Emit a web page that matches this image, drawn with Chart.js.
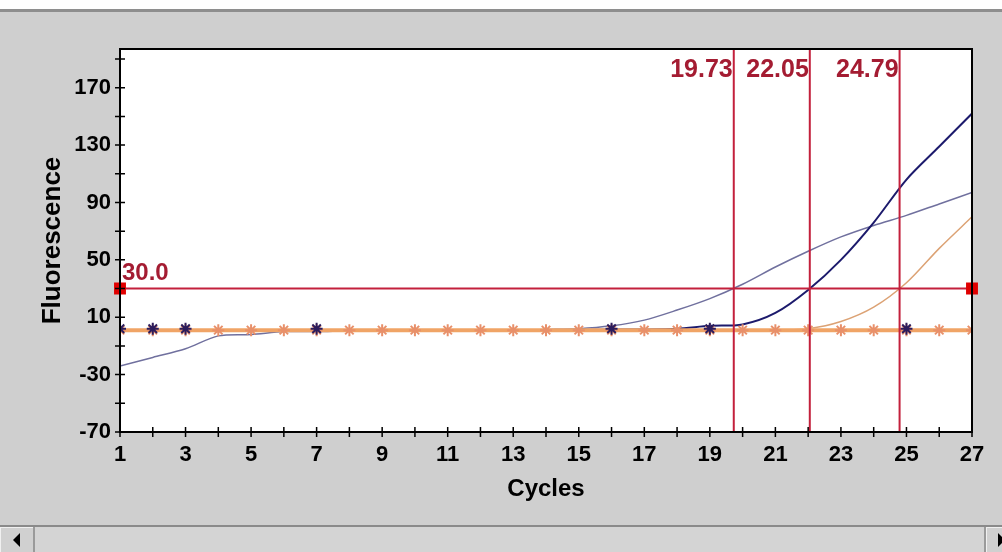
<!DOCTYPE html>
<html>
<head>
<meta charset="utf-8">
<script src="https://cdn.jsdelivr.net/npm/chart.js@4.4.1/dist/chart.umd.min.js"></script>
<style>
  body { margin: 0; width: 1002px; height: 552px; background: #cfcfcf; overflow: hidden; position: relative; }
  #topstrip { position: absolute; left: 0; top: 0; width: 1002px; height: 9px; background: #fff; border-bottom: 3px solid #8e8e8e; }
  #wrap { position: absolute; left: 0; top: 0; width: 1002px; height: 525px; }
  #scroll { position: absolute; left: 0; top: 525px; width: 1002px; height: 25px; background: #d4d4d4; border-top: 2px solid #8a8a8a; }
  .btn { position: absolute; top: 0; width: 33px; height: 25px; background: #d0d0d0; }
  #lbtn { left: 0; border-right: 2px solid #9a9a9a; box-shadow: inset 1px 1px 0 #f0f0f0; }
  #rbtn { left: 984px; border-left: 2px solid #9a9a9a; box-shadow: inset 1px 1px 0 #f0f0f0; }
  #larr { position: absolute; left: 13px; top: 6px; width: 0; height: 0; border-top: 7px solid transparent; border-bottom: 7px solid transparent; border-right: 7px solid #000; }
  #rarr { position: absolute; left: 12px; top: 6px; width: 0; height: 0; border-top: 7px solid transparent; border-bottom: 7px solid transparent; border-left: 7px solid #000; }
</style>
</head>
<body>
<div id="topstrip"></div>
<div id="wrap"><canvas id="chart" width="1002" height="525"></canvas></div>
<div id="scroll">
  <div class="btn" id="lbtn"><div id="larr"></div></div>
  <div class="btn" id="rbtn"><div id="rarr"></div></div>
</div>
<script>
// cycles on the x axis
const cycles = [1,2,3,4,5,6,7,8,9,10,11,12,13,14,15,16,17,18,19,20,21,22,23,24,25,26,27]

// amplification curves (fluorescence per cycle)
const navyCurve   = [1,1,1,1,1,1,1,1,1,1,1,1,1,1,1,1.5,1.5,2,4,5,13,29,50,76,106,129,152]
const slateCurve  = [-24,-18,-12,-3,-2,0,0,0.5,0.5,1,1,1,1,1.5,2,4,8,15,23,33,45,56,66,74,81,89,97]
const orangeCurve = [1,1,1,1,1,1,1,1,1,1,1,1,1,1,1,1,1,1,1,1,1,2,7,17,34,58,80]

// flat negative controls drawn with star markers
const baseline    = [1,1,1,1,1,1,1,1,1,1,1,1,1,1,1,1,1,1,1,1,1,1,1,1,1,1,1]
const darkStars   = [2,2,2,null,null,null,2,null,null,null,null,null,null,null,null,2,null,null,2,null,null,null,null,null,2,null,null]

// threshold and crossing cycles
const threshold = 30
const ctValues = [19.73, 22.05, 24.79]

// axis ticks
const xTicks = cycles
const yTicks = [-70,-50,-30,-10,10,30,50,70,90,110,130,150,170,190]
const yMin = -70
const yMax = 197

const FONT = "'Liberation Sans', Arial, sans-serif"
const RED = '#c3203c'

function pts(ys) {
    return cycles.map((c, i) => ({ x: c, y: ys[i] }))
}

// first dataset is drawn on top
var datasets = [{
    data: [{ x: cycles[0], y: threshold }, { x: cycles[cycles.length - 1], y: threshold }],
    borderColor: RED, borderWidth: 2,
    pointStyle: 'rect', pointRadius: 7,
    pointBackgroundColor: '#e00000', pointBorderColor: '#e00000',
    clip: false
}]
ctValues.forEach(ct => {
    datasets.push({
        data: [{ x: ct, y: yMin }, { x: ct, y: yMax }],
        borderColor: RED, borderWidth: 2, pointRadius: 0
    })
})
datasets.push(
    { data: pts(darkStars), showLine: false, pointStyle: 'star', pointRadius: 6, borderWidth: 2,
      pointBorderColor: '#2c1c5c' },
    { data: pts(baseline), borderColor: '#f0a466', borderWidth: 4, pointStyle: 'star', pointRadius: 6,
      pointBorderWidth: 2, pointBorderColor: '#e8906a' },
    { data: pts(navyCurve), borderColor: '#1c1a6c', borderWidth: 2, pointRadius: 0 },
    { data: pts(slateCurve), borderColor: '#70709e', borderWidth: 1.5, pointRadius: 0 },
    { data: pts(orangeCurve), borderColor: '#dca274', borderWidth: 1.5, pointRadius: 0 }
)

var framePlugin = {
    id: 'frame',
    beforeDraw(chart) {
        var a = chart.chartArea, ctx = chart.ctx
        ctx.save()
        ctx.fillStyle = '#fff'
        ctx.fillRect(a.left, a.top, a.right - a.left, a.bottom - a.top)
        ctx.restore()
    },
    afterDraw(chart) {
        var a = chart.chartArea, ctx = chart.ctx
        var xs = chart.scales.x, ys = chart.scales.y
        ctx.save()
        ctx.strokeStyle = '#000'
        ctx.lineWidth = 2
        ctx.strokeRect(a.left, a.top, a.right - a.left, a.bottom - a.top)
        ctx.lineWidth = 1.5
        ctx.beginPath()
        xTicks.forEach(v => {
            var px = xs.getPixelForValue(v)
            ctx.moveTo(px, a.bottom - 5)
            ctx.lineTo(px, a.bottom + 5)
        })
        yTicks.forEach(v => {
            var py = ys.getPixelForValue(v)
            ctx.moveTo(a.left - 5, py)
            ctx.lineTo(a.left + 5, py)
        })
        ctx.stroke()

        // crossing labels
        ctx.fillStyle = '#a41c32'
        ctx.font = 'bold 25px ' + FONT
        ctx.textAlign = 'right'
        ctx.textBaseline = 'alphabetic'
        ctValues.forEach(ct => {
            ctx.fillText(ct.toFixed(2), xs.getPixelForValue(ct) - 1, a.top + 28)
        })
        ctx.font = 'bold 24px ' + FONT
        ctx.textAlign = 'left'
        ctx.fillText(threshold.toFixed(1), a.left + 2, ys.getPixelForValue(threshold) - 9)
        ctx.restore()
    }
}

function main() {
    var ctx = document.getElementById('chart').getContext('2d')
    new Chart(ctx, {
        type: 'line',
        data: { datasets: datasets },
        options: {
            responsive: false,
            animation: false,
            layout: { padding: { left: 0, top: 49, right: 30, bottom: 0 } },
            plugins: { legend: { display: false }, tooltip: { enabled: false } },
            elements: { line: { tension: 0.3 } },
            scales: {
                x: {
                    type: 'linear', min: 1, max: 27,
                    afterBuildTicks: s => { s.ticks = xTicks.map(v => ({ value: v })) },
                    afterFit: s => { s.height = 525 - 432 },
                    grid: { display: false, drawTicks: false },
                    border: { display: false },
                    ticks: {
                        color: '#000', padding: 10, maxRotation: 0, autoSkip: false,
                        font: { family: FONT, size: 22, weight: 'bold' },
                        callback: v => (v % 2 === 1 ? String(v) : '')
                    },
                    title: {
                        display: true, text: 'Cycles', color: '#000',
                        font: { family: FONT, size: 24, weight: 'bold' },
                        padding: { top: 0, bottom: 21 }
                    }
                },
                y: {
                    type: 'linear', min: yMin, max: yMax,
                    afterBuildTicks: s => { s.ticks = yTicks.map(v => ({ value: v })) },
                    afterFit: s => { s.width = 120 },
                    grid: { display: false, drawTicks: false },
                    border: { display: false },
                    ticks: {
                        color: '#000', padding: 9, autoSkip: false,
                        font: { family: FONT, size: 22, weight: 'bold' },
                        callback: v => ((v - yMin) % 40 === 0 ? String(v) : '')
                    },
                    title: {
                        display: true, text: 'Fluorescence', color: '#000',
                        font: { family: FONT, size: 26, weight: 'bold' },
                        padding: { top: 37, bottom: 0 }
                    }
                }
            }
        },
        plugins: [framePlugin]
    })
}

window.onload = main
</script>
</body>
</html>
